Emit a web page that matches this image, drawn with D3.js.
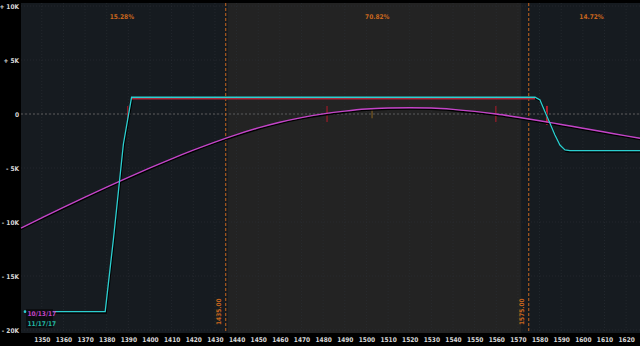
<!DOCTYPE html>
<meta charset="utf-8">
<script src="https://d3js.org/d3.v7.min.js"></script>
<style>
  html, body { margin: 0; padding: 0; background: #000; }
  svg { display: block; }
  text { font-family: 'DejaVu Sans Condensed', 'DejaVu Sans', sans-serif; font-weight: bold; }
</style>
<body>
<div id="chart"></div>
<script>

// price axis ticks and p/l ticks
var priceTicks = d3.range(1350, 1621, 10);
var pnlTicks = [-20000, -15000, -10000, -5000, 0, 5000, 10000];

// p/l today (10/13/17)
var todayCurve = [
  [1340.4, -10560], [1350, -9620], [1360, -8650], [1370, -7700], [1380, -6770],
  [1390, -5870], [1400, -4990], [1410, -4150], [1420, -3350], [1430, -2600],
  [1440, -1910], [1450, -1290], [1460, -760], [1470, -330], [1480, 10],
  [1490, 270], [1500, 460], [1510, 550], [1520, 580], [1530, 550],
  [1540, 430], [1550, 240], [1560, -5], [1570, -300], [1580, -620],
  [1590, -970], [1600, -1320], [1610, -1670], [1620, -2020], [1626.4, -2240]
];

// p/l at expiration (11/17/17)
var expiryCurve = [
  [1342.3, -18300], [1379.3, -18300], [1383.1, -11600], [1387.7, -2800],
  [1391.5, 1550], [1577.9, 1550], [1580.2, 1300], [1582.5, 200], [1584.8, -860],
  [1587.1, -1940], [1589.4, -2870], [1591.7, -3330], [1594, -3400], [1626.4, -3400]
];

// max profit segment (drawn under the expiry line)
var maxProfit = [[1391.5, 1550], [1577.9, 1550]];

// break-even / range markers
var rangeLines = [1435, 1575];
var shadedBand = [1436, 1571.5];
var probLabels = ["15.28%", "70.82%", "14.72%"];
var probLabelAt = [1387, 1505, 1604];

var redMarks = [1389.7, 1481.8, 1559.8];
var strongMark = 1583.4;
var priceMark = 1502.6;

var legendItems = ["10/13/17", "11/17/17"];

var W = 640, H = 346;
var plotLeft = 21, plotTop = 3, plotBottom = 333;

var svg = d3.select("#chart").append("svg")
  .attr("width", W).attr("height", H);

var x = d3.scaleLinear().domain([1340.4, 1626.4]).range([plotLeft, W]);
var y = d3.scaleLinear().domain([-20000, 10000]).range([330, 6]);

svg.append("rect").attr("width", W).attr("height", H).attr("fill", "#000");

var plot = svg.append("g");

plot.append("rect")
  .attr("x", plotLeft).attr("y", plotTop).attr("width", W - plotLeft).attr("height", plotBottom - plotTop)
  .attr("fill", "#161b20");

plot.append("rect")
  .attr("x", x(shadedBand[0])).attr("y", plotTop)
  .attr("width", x(shadedBand[1]) - x(shadedBand[0])).attr("height", plotBottom - plotTop)
  .attr("fill", "#232323");

// faint grid
plot.selectAll(".vg").data(priceTicks).enter().append("line")
  .attr("x1", function(d) { return x(d); }).attr("x2", function(d) { return x(d); })
  .attr("y1", plotTop).attr("y2", plotBottom)
  .attr("stroke", "#2c3036").attr("stroke-width", 0.6).attr("stroke-dasharray", "1,2");
plot.selectAll(".hg").data(pnlTicks).enter().append("line")
  .attr("x1", plotLeft).attr("x2", W)
  .attr("y1", function(d) { return y(d); }).attr("y2", function(d) { return y(d); })
  .attr("stroke", "#2c3036").attr("stroke-width", 0.6).attr("stroke-dasharray", "1,2");

// zero line
plot.append("line")
  .attr("x1", plotLeft).attr("x2", W).attr("y1", y(0)).attr("y2", y(0))
  .attr("stroke", "#5a5a5a").attr("stroke-width", 1).attr("stroke-dasharray", "2,2");

// range lines
plot.selectAll(".rl").data(rangeLines).enter().append("line")
  .attr("x1", function(d) { return x(d); }).attr("x2", function(d) { return x(d); })
  .attr("y1", plotTop).attr("y2", plotBottom)
  .attr("stroke", "#c8661e").attr("stroke-width", 1).attr("stroke-dasharray", "3,2");

plot.selectAll(".rlab").data(rangeLines).enter().append("text")
  .attr("transform", function(d) { return "translate(" + (x(d) - 4.5) + ",325)rotate(-90)"; })
  .attr("fill", "#c8661e").style("font-size", "6.5px")
  .text(function(d) { return d.toFixed(2); });

plot.selectAll(".pl").data(probLabels).enter().append("text")
  .attr("x", function(d, i) { return x(probLabelAt[i]); }).attr("y", 19)
  .attr("text-anchor", "middle").attr("fill", "#c8661e").style("font-size", "6.5px")
  .text(function(d) { return d; });

var line = d3.line()
  .x(function(d) { return x(d[0]); })
  .y(function(d) { return y(d[1]); });
var smooth = d3.line()
  .x(function(d) { return x(d[0]); })
  .y(function(d) { return y(d[1]); })
  .curve(d3.curveMonotoneX);

// markers
plot.selectAll(".rm").data(redMarks).enter().append("line")
  .attr("x1", function(d) { return x(d); }).attr("x2", function(d) { return x(d); })
  .attr("y1", y(750)).attr("y2", y(-750))
  .attr("stroke", "#9c1c2a").attr("stroke-width", 1.2);
plot.append("line")
  .attr("x1", x(strongMark)).attr("x2", x(strongMark))
  .attr("y1", y(750)).attr("y2", y(-1000))
  .attr("stroke", "#b81c2c").attr("stroke-width", 2);
plot.append("line")
  .attr("x1", x(priceMark)).attr("x2", x(priceMark))
  .attr("y1", y(550)).attr("y2", y(-400))
  .attr("stroke", "#7a5a22").attr("stroke-width", 1.2);

// shadows
plot.append("path").datum(todayCurve).attr("d", smooth)
  .attr("fill", "none").attr("stroke", "#000").attr("stroke-width", 1.5)
  .attr("transform", "translate(0,1.3)");
plot.append("path").datum(expiryCurve).attr("d", line)
  .attr("fill", "none").attr("stroke", "#000").attr("stroke-width", 1.5)
  .attr("transform", "translate(0.8,1.3)");
plot.append("path").datum(maxProfit).attr("d", line)
  .attr("fill", "none").attr("stroke", "#b02a3c").attr("stroke-width", 1.3)
  .attr("transform", "translate(0,1.5)");

plot.append("path").datum(todayCurve).attr("d", smooth)
  .attr("fill", "none").attr("stroke", "#c444c8").attr("stroke-width", 1.4);
plot.append("path").datum(expiryCurve).attr("d", line)
  .attr("fill", "none").attr("stroke", "#2ccfd0").attr("stroke-width", 1.3);

// legend
var lg = svg.append("g");
lg.append("rect").attr("x", 26).attr("y", 309).attr("width", 27).attr("height", 19)
  .attr("fill", "#0c0e11");
lg.append("circle").attr("cx", 25).attr("cy", y(-18300)).attr("r", 1.3).attr("fill", "#2ccfd0");
lg.selectAll("text").data(legendItems).enter().append("text")
  .attr("x", 27.5).attr("y", function(d, i) { return 315.5 + i * 10.5; })
  .attr("fill", function(d, i) { return i === 0 ? "#c444c8" : "#22b8a4"; })
  .style("font-size", "6.5px")
  .text(function(d) { return d; });

// x axis
var xAxis = svg.append("g")
  .attr("transform", "translate(0," + plotBottom + ")")
  .call(d3.axisBottom(x).tickValues(priceTicks).tickSize(0).tickPadding(4).tickFormat(d3.format("d")));
xAxis.select(".domain").remove();
xAxis.selectAll("text").attr("fill", "#d8d8d8").style("font-size", "6.5px").style("font-family", null);

// y axis
var yAxis = svg.append("g")
  .attr("transform", "translate(" + (plotLeft - 1) + ",0)")
  .call(d3.axisLeft(y).tickValues(pnlTicks).tickSize(0).tickPadding(1)
    .tickFormat(function(d) {
      if (d === 0) return "0";
      return (d < 0 ? "- " : "+ ") + Math.abs(d / 1000) + "K";
    }));
yAxis.select(".domain").remove();
yAxis.selectAll("text").attr("fill", "#d8d8d8").style("font-size", "6.5px").style("font-family", null);

</script>
</body>
